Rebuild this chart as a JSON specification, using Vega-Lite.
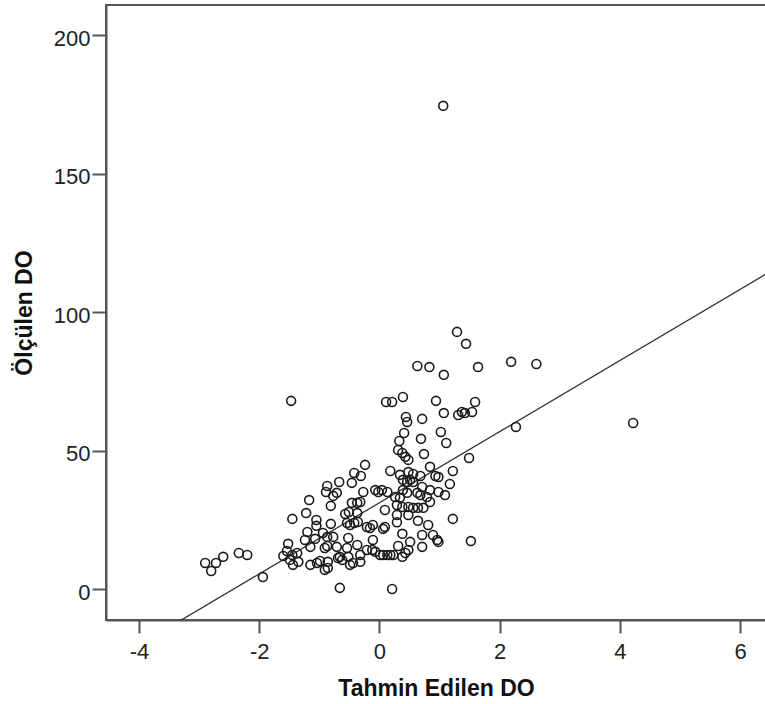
{
  "$schema": "https://vega.github.io/schema/vega-lite/v6.json",
  "autosize": "none",
  "width": 660,
  "height": 615,
  "padding": {"left": 106, "top": 5, "right": 0, "bottom": 84},
  "background": "white",
  "config": {
    "font": "Liberation Sans",
    "view": {"stroke": "#555555", "strokeWidth": 2},
    "axis": {
      "grid": false,
      "domainColor": "#555555",
      "domainWidth": 2,
      "tickColor": "#555555",
      "tickWidth": 2,
      "labelFont": "Liberation Sans",
      "labelFontSize": 22,
      "labelColor": "#222222",
      "titleFont": "Liberation Sans",
      "titleFontSize": 23,
      "titleFontWeight": "bold",
      "titleColor": "#111111"
    }
  },
  "datasets": {
    "pts": [
      {"x": -2.90, "y": 9.5}, {"x": -2.80, "y": 6.6}, {"x": -2.72, "y": 9.5}, {"x": -2.60, "y": 11.7},
      {"x": -2.34, "y": 13.1}, {"x": -2.20, "y": 12.4}, {"x": -1.94, "y": 4.4}, {"x": -1.47, "y": 68.0},
      {"x": -0.66, "y": 0.5}, {"x": 0.21, "y": 0.1},
      {"x": -0.24, "y": 44.9}, {"x": -0.42, "y": 42.0}, {"x": -0.31, "y": 40.9}, {"x": -0.67, "y": 38.7},
      {"x": -0.46, "y": 38.4}, {"x": -0.87, "y": 37.3}, {"x": -0.89, "y": 35.1}, {"x": -0.71, "y": 34.8},
      {"x": -0.77, "y": 33.7}, {"x": -1.17, "y": 32.2}, {"x": -0.81, "y": 30.1}, {"x": -0.27, "y": 35.1},
      {"x": -0.07, "y": 35.8}, {"x": -0.02, "y": 35.1}, {"x": -0.32, "y": 31.5}, {"x": -0.37, "y": 31.2},
      {"x": -0.46, "y": 31.2}, {"x": -1.22, "y": 27.5}, {"x": -1.45, "y": 25.4}, {"x": -1.05, "y": 25.0},
      {"x": -0.57, "y": 27.2}, {"x": -0.51, "y": 27.9}, {"x": -0.37, "y": 27.5}, {"x": -0.81, "y": 23.6},
      {"x": -0.54, "y": 23.9}, {"x": -0.49, "y": 23.2}, {"x": -0.42, "y": 23.9}, {"x": -0.36, "y": 24.3},
      {"x": -0.21, "y": 22.5}, {"x": -0.16, "y": 22.1}, {"x": -0.11, "y": 23.2}, {"x": -1.20, "y": 20.7},
      {"x": -0.94, "y": 20.3}, {"x": -1.05, "y": 22.9}, {"x": -1.24, "y": 17.8}, {"x": -1.07, "y": 18.2},
      {"x": -0.87, "y": 18.9}, {"x": -0.77, "y": 18.9}, {"x": -0.52, "y": 18.5}, {"x": -0.11, "y": 17.8},
      {"x": -1.52, "y": 16.4}, {"x": -0.87, "y": 15.6}, {"x": -0.91, "y": 14.9}, {"x": -1.15, "y": 15.3},
      {"x": -0.71, "y": 15.3}, {"x": -0.54, "y": 14.9}, {"x": -0.37, "y": 16.0}, {"x": -0.21, "y": 14.2},
      {"x": -0.12, "y": 14.2}, {"x": -0.07, "y": 13.5}, {"x": -1.60, "y": 12.0}, {"x": -1.45, "y": 12.4},
      {"x": -1.37, "y": 13.1}, {"x": -1.54, "y": 13.8}, {"x": -0.66, "y": 11.7}, {"x": -0.52, "y": 11.7},
      {"x": -0.32, "y": 12.4}, {"x": -1.49, "y": 10.6}, {"x": -1.35, "y": 9.9}, {"x": -1.44, "y": 8.8},
      {"x": -1.15, "y": 8.8}, {"x": -1.04, "y": 9.5}, {"x": -0.99, "y": 10.2}, {"x": -0.86, "y": 9.9},
      {"x": -0.69, "y": 11.3}, {"x": -0.62, "y": 10.6}, {"x": -0.44, "y": 9.5}, {"x": -0.32, "y": 9.9},
      {"x": -0.49, "y": 8.8}, {"x": -0.91, "y": 7.0}, {"x": -0.86, "y": 7.7},
      {"x": 0.31, "y": 50.3}, {"x": 0.38, "y": 49.2}, {"x": 0.43, "y": 47.8}, {"x": 0.48, "y": 46.7},
      {"x": 0.74, "y": 48.8}, {"x": 1.49, "y": 47.4}, {"x": 0.84, "y": 44.2}, {"x": 0.18, "y": 42.7},
      {"x": 0.48, "y": 42.3}, {"x": 0.56, "y": 41.6}, {"x": 0.68, "y": 40.9}, {"x": 0.98, "y": 40.5},
      {"x": 0.93, "y": 40.9}, {"x": 1.22, "y": 42.7}, {"x": 0.39, "y": 39.5}, {"x": 0.46, "y": 38.7},
      {"x": 0.51, "y": 39.5}, {"x": 0.56, "y": 38.7}, {"x": 1.17, "y": 38.0}, {"x": 0.34, "y": 41.3},
      {"x": 0.71, "y": 36.9}, {"x": 0.84, "y": 35.8}, {"x": 0.04, "y": 35.8}, {"x": 0.13, "y": 35.1},
      {"x": 0.39, "y": 35.8}, {"x": 0.46, "y": 34.8}, {"x": 0.63, "y": 34.8}, {"x": 0.68, "y": 34.0},
      {"x": 0.98, "y": 35.1}, {"x": 1.09, "y": 34.0}, {"x": 0.26, "y": 33.3}, {"x": 0.34, "y": 33.0},
      {"x": 0.79, "y": 33.3}, {"x": 0.09, "y": 28.6}, {"x": 0.29, "y": 30.4}, {"x": 0.38, "y": 29.7},
      {"x": 0.48, "y": 29.7}, {"x": 0.56, "y": 29.4}, {"x": 0.64, "y": 29.4}, {"x": 0.73, "y": 29.4},
      {"x": 0.84, "y": 31.5}, {"x": 0.29, "y": 26.8}, {"x": 0.48, "y": 26.8}, {"x": 1.22, "y": 25.4},
      {"x": 0.09, "y": 22.5}, {"x": 0.06, "y": 21.8}, {"x": 0.29, "y": 24.2}, {"x": 0.64, "y": 24.7},
      {"x": 0.81, "y": 23.2}, {"x": 0.38, "y": 20.0}, {"x": 0.71, "y": 19.6}, {"x": 0.89, "y": 19.6},
      {"x": 0.98, "y": 17.1}, {"x": 0.96, "y": 17.8}, {"x": 1.52, "y": 17.4}, {"x": 0.51, "y": 17.1},
      {"x": 0.71, "y": 15.3}, {"x": 0.31, "y": 15.6}, {"x": 0.48, "y": 14.2}, {"x": 0.43, "y": 13.1},
      {"x": 0.38, "y": 11.7}, {"x": 0.01, "y": 12.4}, {"x": 0.06, "y": 12.4}, {"x": 0.13, "y": 12.4},
      {"x": 0.18, "y": 12.4}, {"x": 0.23, "y": 12.4},
      {"x": 1.29, "y": 92.9}, {"x": 1.44, "y": 88.6}, {"x": 0.63, "y": 80.6}, {"x": 0.83, "y": 80.2},
      {"x": 1.07, "y": 77.4}, {"x": 1.64, "y": 80.2}, {"x": 2.19, "y": 82.1}, {"x": 0.11, "y": 67.6},
      {"x": 0.21, "y": 67.6}, {"x": 0.39, "y": 69.4}, {"x": 0.94, "y": 68.0}, {"x": 1.59, "y": 67.6},
      {"x": 1.07, "y": 63.6}, {"x": 1.37, "y": 64.0}, {"x": 1.31, "y": 62.9}, {"x": 1.42, "y": 63.6},
      {"x": 1.54, "y": 64.0}, {"x": 0.44, "y": 62.2}, {"x": 0.46, "y": 60.4}, {"x": 0.71, "y": 61.5},
      {"x": 0.41, "y": 56.4}, {"x": 1.02, "y": 56.8}, {"x": 0.33, "y": 53.5}, {"x": 0.69, "y": 54.3},
      {"x": 1.11, "y": 52.8}, {"x": 2.27, "y": 58.6},
      {"x": 1.06, "y": 174.5}, {"x": 2.61, "y": 81.3}, {"x": 4.22, "y": 60.0}
    ],
    "fit": [
      {"x": -4.55, "y": -27.2},
      {"x": 6.43, "y": 113.8}
    ]
  },
  "layer": [
    {
      "data": {"name": "fit"},
      "mark": {"type": "line", "color": "#333333", "strokeWidth": 1.3, "clip": true},
      "encoding": {
        "x": {"field": "x", "type": "quantitative"},
        "y": {"field": "y", "type": "quantitative"}
      }
    },
    {
      "data": {"name": "pts"},
      "mark": {"type": "point", "shape": "circle", "filled": false, "size": 80, "stroke": "#1a1a1a", "strokeWidth": 1.6, "opacity": 1},
      "encoding": {
        "x": {
          "field": "x", "type": "quantitative",
          "scale": {"domain": [-4.55, 6.43], "nice": false, "zero": false},
          "axis": {"title": "Tahmin Edilen DO", "values": [-4, -2, 0, 2, 4, 6], "labelExpr": "'' + datum.value", "tickSize": 13, "labelPadding": 8, "titlePadding": 15}
        },
        "y": {
          "field": "y", "type": "quantitative",
          "scale": {"domain": [-11.1, 210.9], "nice": false, "zero": false},
          "axis": {"title": "Ölçülen DO", "values": [0, 50, 100, 150, 200], "labelExpr": "'' + datum.value", "tickSize": 14, "labelPadding": 2, "labelOffset": 3, "titlePadding": 17}
        }
      }
    },
    {
      "mark": {"type": "text", "text": "R² Linear = 0,336", "align": "left", "baseline": "alphabetic", "font": "Liberation Sans", "fontSize": 22, "color": "#222222"},
      "encoding": {
        "x": {"datum": 2.84, "type": "quantitative"},
        "y": {"datum": 190, "type": "quantitative"}
      }
    }
  ]
}
